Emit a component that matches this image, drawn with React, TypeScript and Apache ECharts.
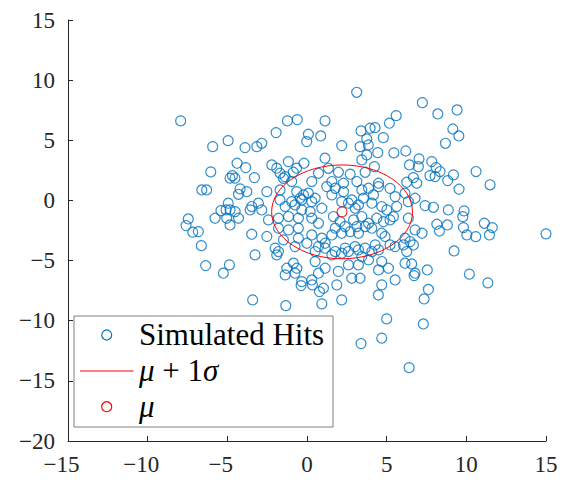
import React, { useEffect, useRef } from "react";
import * as echarts from "echarts";

// Simulated hit positions
const hitX = [
  -7.93, -5.92, -4.95, -6.04, -4.83, -6.6, -6.3,
  3.12, -1.23, -0.61, 1.13, -1.94, -3.89, -3.15, -2.84, 0.09, -0.02, 0.86, 2.18, 3.39, 3.96, 4.27, 5.17, 5.6, 4.79, 3.75, 3.85, 3.33, 4.44, 3.75, 3.44, 5.45,
  -4.39, -3.85, -2.21, -1.17, -0.19, 1.13, -3.3, -4.68, -4.52, -1.9, -1.69, -1.38, -0.86, -0.65,
  0.72, 1.34, 1.97, 2.71, 1.56, 2.29, 3.13, 3.65, 4.23, 4.49, 0.3, -0.96, -1.48,
  7.24, 8.21, 9.42, 9.15, 9.53, 8.69, 6.2, 7.03, 6.43, 6.99, 7.83, 8.1, 8.35, 7.72, 8.04, 9.19, 8.83, 10.61, 11.49, 6.68, 6.26, 6.89, 9.54,
  8.87, 9.86, 9.78, 7.41, 7.93, 11.13, 11.63, 8.15, 8.31, 8.81, 9.82, 10.03, 10.59, 11.45, 15.0, 7.22, 9.23, 10.19, 11.35, 7.55, 6.57, 6.15, 6.78, 6.72, 5.53, 7.62,
  5.53, 6.15, 6.78, 6.36, 5.63, 5.42, 5.21, 6.36, 6.78, 6.15, 6.47, 6.68, 6.05, 6.26, 5.21, 5.53, 5.21,
  7.35, 7.3, 6.41,
  -3.41, -1.33, 0.93, 0.78, -0.37, 0.34, 2.18, 4.48, 5.0, 4.69, 3.39,
  -7.45, -7.59, -7.17, -6.82, -6.63, -6.36, -5.25, -4.87, -5.77, -5.4, -5.08, -4.94, -5.04, -4.83,
  -4.2, -3.78, -4.3, -2.52, -1.69, -0.64, -0.22, -0.43, 0.09, 0.51, 1.24, 1.77, 1.56, 2.29, 3.44, 3.86, 4.49, 3.54, 4.17,
  -4.83, -4.51, -3.47, -3.57, -3.05, -2.84, -1.69, -1.37, -0.96, -0.75, -0.33, 0.3, -0.33, 0.2, 0.93, 2.18, 2.6, 3.02, 2.81, 3.23, 4.07, 4.69, 5.01,
  -4.3, -2.42, -1.79, -1.16, -0.54, 0.3, 0.72, 1.66, 2.08, 2.92, 3.44, 3.86, 4.38, 4.8, 1.77, 2.39, 3.13, 3.65,
  -3.47, -2.52, -1.79, -1.16, -0.54, -1.48, -0.54, 0.3, 0.93, 1.14, 1.56, 2.18, 2.71, 3.23, 4.07, 4.69, 4.9,
  1.14, 2.39, 3.02, 3.65, 4.28, 4.07, 3.44, 4.49,
  -2.0, -1.79, -1.9, -3.26, -0.75, -0.01, 0.51, 0.72, 1.77, 1.56, 2.18, 2.6, 3.23,
  -1.27, -0.85, -0.64, -0.75, -1.37, -0.33, 0.3, 0.51, 1.14, 0.72, 1.97, 2.81, 3.33, 2.6, 3.23, 3.86, 4.69, 4.49, 5.11, 1.87, 1.03, 4.69,
];
const hitY = [
  6.61, 4.47, 4.97, 2.37, 1.85, 0.87, 0.87,
  8.99, 6.61, 6.72, 6.61, 5.64, 4.39, 4.47, 4.75, 5.5, 4.89, 5.36, 4.56, 5.78, 6.0, 6.05, 6.42, 7.05, 5.22, 5.11, 4.61, 4.47, 3.97, 3.78, 3.37, 3.95,
  3.09, 2.73, 2.95, 3.23, 3.09, 3.51, 1.9, 2.06, 1.85, 2.68, 2.26, 1.98, 2.34, 2.68,
  2.26, 2.67, 2.34, 2.18, 1.57, 1.43, 1.57, 2.34, 2.81, 1.43, 1.57, 1.57, 1.84,
  8.13, 7.19, 7.52, 5.94, 5.36, 4.75, 4.11, 3.45, 2.95, 2.81, 3.23, 2.73, 2.4, 2.06, 1.98, 2.12, 1.65, 2.4, 1.3, 1.9, 1.51, 1.43, 0.93,
  -0.79, -0.87, -1.35, -0.43, -0.57, -1.9, -2.26, -1.98, -2.54, -2.04, -2.26, -2.87, -3.01, -2.87, -2.78, -2.73, -4.2, -6.13, -6.85, -5.78, -5.28, -5.22, -6.05, -6.25, -6.61, -7.4,
  0.32, 0.6, 0.18, -0.1, -0.51, -1.35, -1.62, -1.48, -2.45, -3.14, -3.42, -3.7, -3.7, -4.25, -3.7, -3.84, 1.0,
  -8.19, -10.27, -13.9,
  -8.27, -8.75, -8.6, -7.58, -7.08, -7.02, -8.27, -7.86, -9.85, -11.45, -11.9,
  -1.54, -2.09, -2.64, -2.59, -3.76, -5.42, -6.05, -5.36, -1.48, -0.85, -0.79, -0.23, -1.48, -2.04,
  0.96, 0.73, 0.51, 0.73, 0.87, 0.73, 0.46, 0.18, 0.6, 0.18, 1.15, 1.01, 0.46, 0.73, 0.87, 1.01, 1.15, 0.18, 0.46,
  -0.79, -0.93, -0.51, -0.79, -0.23, -0.79, 0.04, -0.51, -0.1, -0.37, 0.04, -0.1, -0.79, -0.93, -0.65, -0.1, -0.23, -0.65, 0.04, -0.37, -0.23, -0.51, -0.79,
  -1.48, -1.62, -1.48, -1.34, -1.48, -1.48, -1.9, -1.34, -1.76, -1.62, -1.34, -1.9, -1.48, -1.76, -2.31, -2.17, -2.17, -2.17,
  -2.81, -3.0, -2.31, -2.45, -2.31, -3.28, -3.14, -2.87, -3.14, -3.56, -2.87, -2.73, -2.59, -2.73, -2.31, -2.73, -3.0,
  -3.97, -3.97, -3.84, -3.97, -3.7, -4.25, -4.67, -4.11,
  -3.97, -4.25, -4.53, -4.53, -3.84, -3.56, -4.25, -3.84, -4.25, -4.53, -4.39, -4.25, -4.11,
  -5.64, -5.22, -5.64, -6.05, -6.19, -6.75, -6.61, -5.08, -5.64, -6.05, -5.9, -6.47, -6.47, -5.36, -5.36, -4.94, -5.08, -5.78, -5.64, -7.02, -7.3, -7.02,
];

// Mean and one-sigma radii
const muX = [2.2];
const muY = [-0.95];
const sigmaX = [4.42];
const sigmaY = [3.9];

const legendLabels = ["Simulated Hits", "{i|μ} + 1{i|σ}", "{i|μ}"];

const FONT = "Liberation Serif";
const INK = "#262626";
const BLUE = "#0072BD";
const RED = "#FF0000";

export default function App() {
  const ref = useRef<HTMLDivElement>(null);

  useEffect(() => {
    if (!ref.current) return;
    const chart = echarts.init(ref.current, null, { renderer: "svg" });

    const hits = hitX.map((x, i) => [x, hitY[i]]);
    const ellipseData = muX.map((x, i) => [x, muY[i], sigmaX[i], sigmaY[i]]);
    const muData = muX.map((x, i) => [x, muY[i]]);

    const tickFont = { fontFamily: FONT, fontSize: 23, color: INK };

    const option: any = {
      animation: false,
      backgroundColor: "#ffffff",
      grid: { left: 68, right: 30, top: 20, bottom: 43, containLabel: false },
      xAxis: {
        type: "value",
        min: -15,
        max: 15,
        interval: 5,
        position: "bottom",
        axisLine: { onZero: false, lineStyle: { color: INK, width: 1 } },
        axisTick: { inside: true, length: 5, lineStyle: { color: INK } },
        splitLine: { show: false },
        axisLabel: {
          margin: 12,
          ...tickFont,
          formatter: (v: number) =>
            v < 0 ? `{n|−${-v}}{g|−}` : `{n|${v}}`,
          rich: {
            n: { ...tickFont },
            g: { ...tickFont, color: "transparent" },
          },
        },
      },
      yAxis: {
        type: "value",
        min: -20,
        max: 15,
        interval: 5,
        axisLine: { show: true, onZero: false, lineStyle: { color: INK, width: 1 } },
        axisTick: { show: true, inside: true, length: 5, lineStyle: { color: INK } },
        splitLine: { show: false },
        axisLabel: {
          margin: 13,
          ...tickFont,
          formatter: (v: number) => (v < 0 ? `−${-v}` : `${v}`),
        },
      },
      series: [
        {
          name: "Simulated Hits",
          type: "scatter",
          data: hits,
          symbol: "circle",
          symbolSize: 10,
          silent: true,
          itemStyle: { color: "transparent", borderColor: BLUE, borderWidth: 1.2 },
          z: 2,
        },
        {
          name: "mu + 1 sigma",
          type: "custom",
          data: ellipseData,
          silent: true,
          z: 3,
          renderItem: (params: any, api: any) => {
            const c = api.coord([api.value(0), api.value(1)]);
            const s = api.size([api.value(2), api.value(3)]);
            return {
              type: "ellipse",
              shape: { cx: c[0], cy: c[1], rx: s[0], ry: s[1] },
              style: { fill: "none", stroke: RED, lineWidth: 1 },
            };
          },
        },
        {
          name: "mu",
          type: "scatter",
          data: muData,
          symbol: "circle",
          symbolSize: 10,
          silent: true,
          itemStyle: { color: "transparent", borderColor: RED, borderWidth: 1.2 },
          z: 4,
        },
      ],
      graphic: [
        {
          type: "group",
          z: 100,
          children: [
            {
              type: "rect",
              shape: { x: 74, y: 316, width: 259, height: 111 },
              style: { fill: "#ffffff", stroke: "#808080", lineWidth: 1 },
            },
            {
              type: "circle",
              shape: { cx: 106.7, cy: 335, r: 5 },
              style: { fill: "none", stroke: BLUE, lineWidth: 1.2 },
            },
            {
              type: "line",
              shape: { x1: 80, y1: 371, x2: 133.5, y2: 371 },
              style: { stroke: RED, lineWidth: 1 },
            },
            {
              type: "circle",
              shape: { cx: 106.7, cy: 406.7, r: 5 },
              style: { fill: "none", stroke: RED, lineWidth: 1.2 },
            },
            ...legendLabels.map((t, i) => ({
              type: "text",
              x: 139,
              y: 334 + i * 36,
              style: {
                text: t,
                fontFamily: FONT,
                fontSize: 31,
                fill: "#000000",
                align: "left",
                verticalAlign: "middle",
                rich: {
                  i: { fontFamily: FONT, fontSize: 31, fontStyle: "italic", fill: "#000000" },
                },
              },
            })),
          ],
        },
      ],
    };

    chart.setOption(option);
    return () => chart.dispose();
  }, []);

  return (
    <div
      ref={ref}
      style={{ position: "absolute", left: 0, top: 0, width: 576, height: 484 }}
    />
  );
}
